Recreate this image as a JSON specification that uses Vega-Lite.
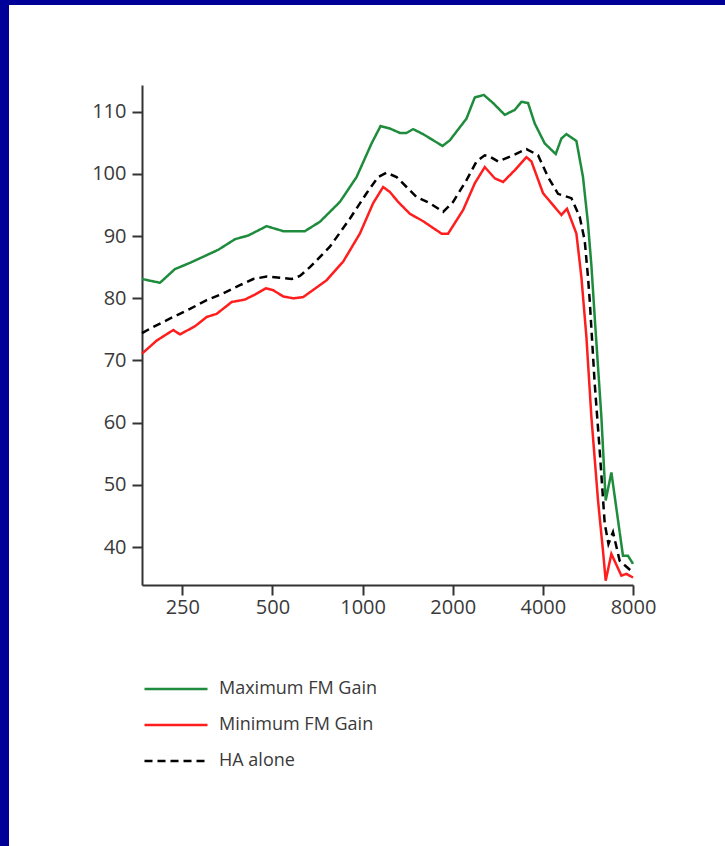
{
  "$schema": "https://vega.github.io/schema/vega-lite/v6.json",
  "background": "white",
  "padding": 0,
  "spacing": 0,
  "config": {"view": {"stroke": null}, "concat": {"spacing": 0}},
  "vconcat": [
    {"width": 725, "height": 5, "view": {"fill": "#000099", "stroke": null}, "data": {"values": []}, "mark": "point"},
    {
      "spacing": 0,
      "hconcat": [
        {"width": 9, "height": 841, "view": {"fill": "#000099", "stroke": null}, "data": {"values": []}, "mark": "point"},
        {
          "spacing": 0,
          "vconcat": [
            {"width": 491, "height": 80, "view": {"fill": "white", "stroke": null}, "data": {"values": []}, "mark": "point"},
            {
              "width": 491,
              "height": 500,
              "data": {"values": [
                {"series": "Maximum FM Gain", "freq": 183.4, "level": 83.1},
                {"series": "Maximum FM Gain", "freq": 210.6, "level": 82.5},
                {"series": "Maximum FM Gain", "freq": 236.3, "level": 84.7},
                {"series": "Maximum FM Gain", "freq": 265.2, "level": 85.7},
                {"series": "Maximum FM Gain", "freq": 329.6, "level": 87.8},
                {"series": "Maximum FM Gain", "freq": 374.8, "level": 89.5},
                {"series": "Maximum FM Gain", "freq": 415.1, "level": 90.1},
                {"series": "Maximum FM Gain", "freq": 478.2, "level": 91.6},
                {"series": "Maximum FM Gain", "freq": 543.2, "level": 90.8},
                {"series": "Maximum FM Gain", "freq": 641.8, "level": 90.8},
                {"series": "Maximum FM Gain", "freq": 720.2, "level": 92.3},
                {"series": "Maximum FM Gain", "freq": 839.9, "level": 95.5},
                {"series": "Maximum FM Gain", "freq": 954.9, "level": 99.5},
                {"series": "Maximum FM Gain", "freq": 1071.5, "level": 104.9},
                {"series": "Maximum FM Gain", "freq": 1148.3, "level": 107.7},
                {"series": "Maximum FM Gain", "freq": 1233.4, "level": 107.3},
                {"series": "Maximum FM Gain", "freq": 1331.9, "level": 106.6},
                {"series": "Maximum FM Gain", "freq": 1402.3, "level": 106.6},
                {"series": "Maximum FM Gain", "freq": 1475.1, "level": 107.2},
                {"series": "Maximum FM Gain", "freq": 1592.9, "level": 106.4},
                {"series": "Maximum FM Gain", "freq": 1849.0, "level": 104.5},
                {"series": "Maximum FM Gain", "freq": 1955.7, "level": 105.4},
                {"series": "Maximum FM Gain", "freq": 2223.6, "level": 108.9},
                {"series": "Maximum FM Gain", "freq": 2370.0, "level": 112.3},
                {"series": "Maximum FM Gain", "freq": 2539.7, "level": 112.7},
                {"series": "Maximum FM Gain", "freq": 2727.8, "level": 111.4},
                {"series": "Maximum FM Gain", "freq": 2984.4, "level": 109.5},
                {"series": "Maximum FM Gain", "freq": 3222.9, "level": 110.3},
                {"series": "Maximum FM Gain", "freq": 3393.1, "level": 111.6},
                {"series": "Maximum FM Gain", "freq": 3569.9, "level": 111.4},
                {"series": "Maximum FM Gain", "freq": 3758.4, "level": 108.1},
                {"series": "Maximum FM Gain", "freq": 4058.3, "level": 104.9},
                {"series": "Maximum FM Gain", "freq": 4416.1, "level": 103.2},
                {"series": "Maximum FM Gain", "freq": 4613.7, "level": 105.7},
                {"series": "Maximum FM Gain", "freq": 4794.3, "level": 106.4},
                {"series": "Maximum FM Gain", "freq": 5177.2, "level": 105.3},
                {"series": "Maximum FM Gain", "freq": 5446.6, "level": 99.5},
                {"series": "Maximum FM Gain", "freq": 5659.8, "level": 92.0},
                {"series": "Maximum FM Gain", "freq": 5809.6, "level": 85.3},
                {"series": "Maximum FM Gain", "freq": 5958.9, "level": 77.0},
                {"series": "Maximum FM Gain", "freq": 6273.8, "level": 60.9},
                {"series": "Maximum FM Gain", "freq": 6484.4, "level": 47.5},
                {"series": "Maximum FM Gain", "freq": 6774.7, "level": 52.0},
                {"series": "Maximum FM Gain", "freq": 7406.2, "level": 38.6},
                {"series": "Maximum FM Gain", "freq": 7696.6, "level": 38.6},
                {"series": "Maximum FM Gain", "freq": 8000, "level": 37.3},

                {"series": "Minimum FM Gain", "freq": 183.4, "level": 71.1},
                {"series": "Minimum FM Gain", "freq": 205.3, "level": 73.2},
                {"series": "Minimum FM Gain", "freq": 233.2, "level": 74.9},
                {"series": "Minimum FM Gain", "freq": 245.6, "level": 74.2},
                {"series": "Minimum FM Gain", "freq": 275.6, "level": 75.5},
                {"series": "Minimum FM Gain", "freq": 301.6, "level": 77.0},
                {"series": "Minimum FM Gain", "freq": 325.6, "level": 77.5},
                {"series": "Minimum FM Gain", "freq": 365.4, "level": 79.4},
                {"series": "Minimum FM Gain", "freq": 404.7, "level": 79.8},
                {"series": "Minimum FM Gain", "freq": 437.0, "level": 80.6},
                {"series": "Minimum FM Gain", "freq": 475.6, "level": 81.6},
                {"series": "Minimum FM Gain", "freq": 503.0, "level": 81.3},
                {"series": "Minimum FM Gain", "freq": 543.2, "level": 80.3},
                {"series": "Minimum FM Gain", "freq": 586.7, "level": 80.0},
                {"series": "Minimum FM Gain", "freq": 633.5, "level": 80.2},
                {"series": "Minimum FM Gain", "freq": 758.2, "level": 82.9},
                {"series": "Minimum FM Gain", "freq": 861.4, "level": 85.9},
                {"series": "Minimum FM Gain", "freq": 979.4, "level": 90.4},
                {"series": "Minimum FM Gain", "freq": 1084.8, "level": 95.3},
                {"series": "Minimum FM Gain", "freq": 1171.5, "level": 97.9},
                {"series": "Minimum FM Gain", "freq": 1233.4, "level": 97.1},
                {"series": "Minimum FM Gain", "freq": 1314.6, "level": 95.5},
                {"series": "Minimum FM Gain", "freq": 1438.3, "level": 93.6},
                {"series": "Minimum FM Gain", "freq": 1592.9, "level": 92.4},
                {"series": "Minimum FM Gain", "freq": 1834.8, "level": 90.4},
                {"series": "Minimum FM Gain", "freq": 1930.3, "level": 90.4},
                {"series": "Minimum FM Gain", "freq": 2166.3, "level": 94.2},
                {"series": "Minimum FM Gain", "freq": 2370.0, "level": 98.5},
                {"series": "Minimum FM Gain", "freq": 2559.4, "level": 101.1},
                {"series": "Minimum FM Gain", "freq": 2763.6, "level": 99.3},
                {"series": "Minimum FM Gain", "freq": 2945.6, "level": 98.7},
                {"series": "Minimum FM Gain", "freq": 3222.9, "level": 100.6},
                {"series": "Minimum FM Gain", "freq": 3526.3, "level": 102.7},
                {"series": "Minimum FM Gain", "freq": 3664.3, "level": 102.0},
                {"series": "Minimum FM Gain", "freq": 4005.7, "level": 96.9},
                {"series": "Minimum FM Gain", "freq": 4272.6, "level": 95.3},
                {"series": "Minimum FM Gain", "freq": 4613.7, "level": 93.4},
                {"series": "Minimum FM Gain", "freq": 4816.6, "level": 94.4},
                {"series": "Minimum FM Gain", "freq": 5177.2, "level": 90.4},
                {"series": "Minimum FM Gain", "freq": 5379.9, "level": 83.4},
                {"series": "Minimum FM Gain", "freq": 5590.7, "level": 73.8},
                {"series": "Minimum FM Gain", "freq": 5809.6, "level": 60.9},
                {"series": "Minimum FM Gain", "freq": 6113.0, "level": 47.5},
                {"series": "Minimum FM Gain", "freq": 6351.3, "level": 39.4},
                {"series": "Minimum FM Gain", "freq": 6484.4, "level": 34.6},
                {"series": "Minimum FM Gain", "freq": 6774.7, "level": 38.9},
                {"series": "Minimum FM Gain", "freq": 7315.7, "level": 35.4},
                {"series": "Minimum FM Gain", "freq": 7602.3, "level": 35.7},
                {"series": "Minimum FM Gain", "freq": 8000, "level": 35.1},

                {"series": "HA alone", "freq": 183.4, "level": 74.4},
                {"series": "HA alone", "freq": 200.0, "level": 75.4},
                {"series": "HA alone", "freq": 233.2, "level": 77.0},
                {"series": "HA alone", "freq": 265.2, "level": 78.3},
                {"series": "HA alone", "freq": 301.6, "level": 79.7},
                {"series": "HA alone", "freq": 342.5, "level": 80.8},
                {"series": "HA alone", "freq": 389.4, "level": 82.1},
                {"series": "HA alone", "freq": 431.4, "level": 83.1},
                {"series": "HA alone", "freq": 478.2, "level": 83.5},
                {"series": "HA alone", "freq": 529.6, "level": 83.3},
                {"series": "HA alone", "freq": 579.5, "level": 83.1},
                {"series": "HA alone", "freq": 617.7, "level": 83.6},
                {"series": "HA alone", "freq": 667.0, "level": 85.0},
                {"series": "HA alone", "freq": 777.7, "level": 88.3},
                {"series": "HA alone", "freq": 906.9, "level": 92.8},
                {"series": "HA alone", "freq": 1031.1, "level": 96.9},
                {"series": "HA alone", "freq": 1127.2, "level": 99.5},
                {"series": "HA alone", "freq": 1202.5, "level": 100.2},
                {"series": "HA alone", "freq": 1298.5, "level": 99.5},
                {"series": "HA alone", "freq": 1402.3, "level": 97.9},
                {"series": "HA alone", "freq": 1514.2, "level": 96.3},
                {"series": "HA alone", "freq": 1677.0, "level": 95.3},
                {"series": "HA alone", "freq": 1857.6, "level": 93.9},
                {"series": "HA alone", "freq": 2005.8, "level": 95.5},
                {"series": "HA alone", "freq": 2223.6, "level": 99.0},
                {"series": "HA alone", "freq": 2401.1, "level": 102.0},
                {"series": "HA alone", "freq": 2559.4, "level": 103.0},
                {"series": "HA alone", "freq": 2659.5, "level": 102.8},
                {"series": "HA alone", "freq": 2834.4, "level": 102.0},
                {"series": "HA alone", "freq": 3181.0, "level": 103.0},
                {"series": "HA alone", "freq": 3526.3, "level": 104.0},
                {"series": "HA alone", "freq": 3854.8, "level": 103.0},
                {"series": "HA alone", "freq": 4162.5, "level": 99.5},
                {"series": "HA alone", "freq": 4494.8, "level": 96.8},
                {"series": "HA alone", "freq": 4982.2, "level": 96.1},
                {"series": "HA alone", "freq": 5310.3, "level": 93.1},
                {"series": "HA alone", "freq": 5518.1, "level": 89.3},
                {"series": "HA alone", "freq": 5659.8, "level": 83.4},
                {"series": "HA alone", "freq": 5734.2, "level": 79.7},
                {"series": "HA alone", "freq": 5958.9, "level": 66.3},
                {"series": "HA alone", "freq": 6193.0, "level": 55.5},
                {"series": "HA alone", "freq": 6436.0, "level": 43.8},
                {"series": "HA alone", "freq": 6624.0, "level": 40.5},
                {"series": "HA alone", "freq": 6859.0, "level": 42.4},
                {"series": "HA alone", "freq": 7221.0, "level": 37.8},
                {"series": "HA alone", "freq": 8000, "level": 35.9}
              ]},
              "mark": {"type": "line", "strokeWidth": 2.5},
              "encoding": {
                "x": {
                  "field": "freq", "type": "quantitative",
                  "scale": {"type": "log", "domain": [183.4, 8000], "nice": false},
                  "axis": {
                    "values": [250, 500, 1000, 2000, 4000, 8000], "format": "d", "title": null, "grid": false,
                    "domainColor": "#333333", "domainWidth": 2, "tickColor": "#333333", "tickWidth": 2, "tickSize": 10,
                    "labelFont": "Open Sans", "labelFontSize": 20, "labelColor": "#3a3a3a", "labelPadding": 2,
                    "labelFlush": false, "labelOverlap": false
                  }
                },
                "y": {
                  "field": "level", "type": "quantitative",
                  "scale": {"domain": [33.9, 114.3], "nice": false, "zero": false},
                  "axis": {
                    "values": [40, 50, 60, 70, 80, 90, 100, 110], "title": null, "grid": false,
                    "domainColor": "#333333", "domainWidth": 2, "tickColor": "#333333", "tickWidth": 2, "tickSize": 10,
                    "labelFont": "Open Sans", "labelFontSize": 20, "labelColor": "#3a3a3a", "labelPadding": 6,
                    "minExtent": 133, "maxExtent": 133
                  }
                },
                "color": {
                  "field": "series", "type": "nominal",
                  "scale": {"domain": ["Maximum FM Gain", "Minimum FM Gain", "HA alone"], "range": ["#1e8c3c", "#ff1e1e", "#000000"]},
                  "legend": {
                    "title": null, "orient": "none", "legendX": 153.5, "legendY": 666.5, "direction": "vertical",
                    "symbolType": "M-1.5,0H1.5", "symbolSize": 1764, "symbolStrokeWidth": 2.5,
                    "labelFont": "Open Sans", "labelFontSize": 18, "labelColor": "#3a3a3a", "labelOffset": 20.5,
                    "rowPadding": 4, "padding": 0
                  }
                },
                "strokeDash": {
                  "field": "series", "type": "nominal",
                  "scale": {"domain": ["Maximum FM Gain", "Minimum FM Gain", "HA alone"], "range": [[1, 0], [1, 0], [8, 5]]}
                }
              }
            }
          ]
        }
      ]
    }
  ]
}
